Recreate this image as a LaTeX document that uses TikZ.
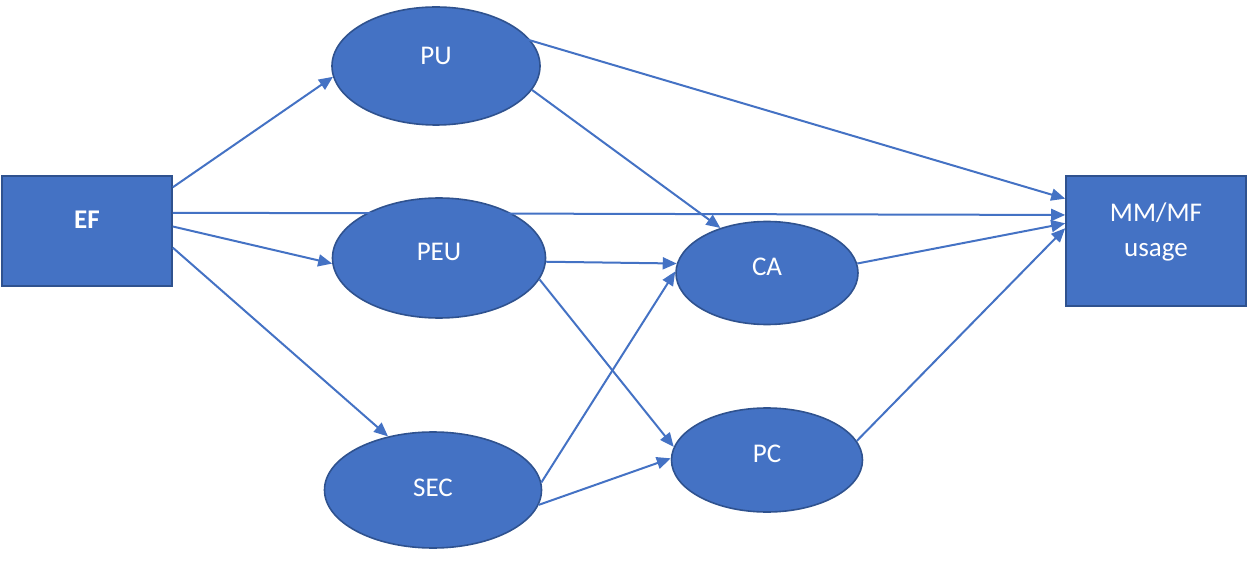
\documentclass[tikz,border=0pt]{standalone}
\usepackage{fontspec}
\setmainfont{Carlito}
\usetikzlibrary{arrows.meta, shapes.geometric}
\definecolor{box-blue}{HTML}{4472C4}
\definecolor{edge-blue}{HTML}{2F528F}

\begin{document}
\begin{tikzpicture}[x=1pt, y=-1pt,
    every node/.style={font=\fontsize{27}{35}\selectfont, text=white},
    blob/.style={ellipse, draw=edge-blue, line width=1.6pt, fill=box-blue, inner sep=0pt,
      text height=17pt, text depth=12.6pt},
    blk/.style={rectangle, draw=edge-blue, line width=1.6pt, fill=box-blue, inner sep=0pt,
      text height=17pt, text depth=21.4pt},
    link/.style={draw=box-blue, line width=2pt, -{Triangle[length=14pt, width=12pt]}}]
    \useasboundingbox (0,0) rectangle (1247,561);
    % boxes
    \node[blk, minimum width=170pt, minimum height=110pt, font=\fontsize{27}{35}\selectfont\bfseries]
      (ef) at (87,231) {EF};
    \node[blk, minimum width=180pt, minimum height=130pt, text height=32pt, text depth=0pt]
      (use) at (1156,241) {\begin{tabular}[b]{@{}c@{}}MM/MF\\usage\end{tabular}};
    % ellipses
    \node[blob, minimum width=208pt, minimum height=118pt, text depth=19.6pt] (pu) at (436,66) {PU};
    \node[blob, minimum width=213pt, minimum height=120pt] (peu) at (439,258) {PEU};
    \node[blob, minimum width=217pt, minimum height=116pt, text depth=3.6pt] (sec) at (433,490) {SEC};
    \node[blob, minimum width=182pt, minimum height=103pt] (ca) at (767,273) {CA};
    \node[blob, minimum width=191pt, minimum height=104pt] (pc) at (767,460) {PC};
    % arrows
    \draw[link] (ef.27) -- (pu.186);
    \draw[link] (ef.12.6) -- (use.164.6);
    \draw[link] (ef.3.4) -- (peu.183);
    \draw[link] (ef.-11.3) -- (sec.130);
    \draw[link, shorten <=-10pt] (pu.15) -- (use.155);
    \draw[link] (pu.-14) -- (ca.136);
    \draw[link] (peu.-2) -- (ca.174);
    \draw[link] (peu.-12) -- (pc.172);
    \draw[link] (sec.4) -- (ca.179);
    \draw[link] (sec.-8) -- (pc.179);
    \draw[link] (ca.6) -- (use.169);
    \draw[link] (pc.12) -- (use.172);
\end{tikzpicture}
\end{document}
